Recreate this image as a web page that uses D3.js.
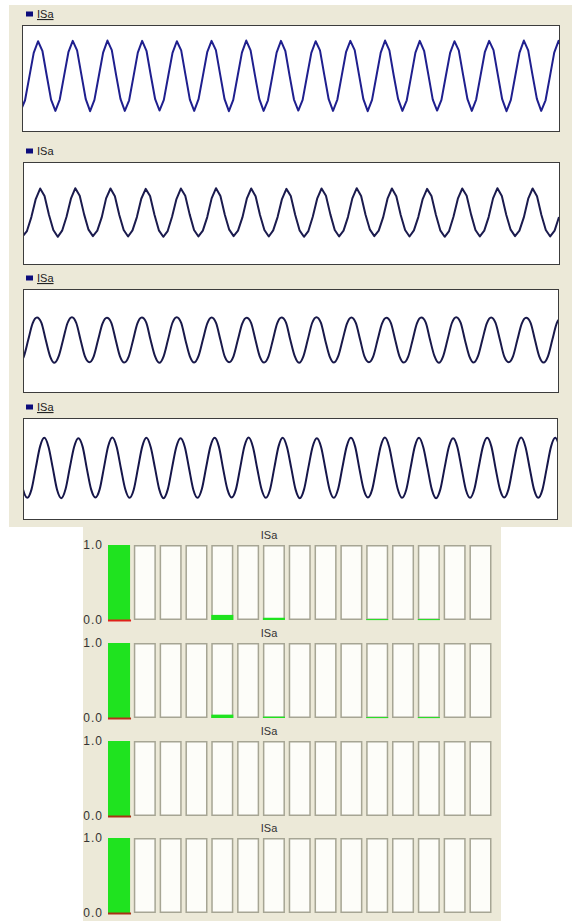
<!DOCTYPE html>
<html>
<head>
<meta charset="utf-8">
<script src="https://cdn.jsdelivr.net/npm/d3@7"></script>
<style>
body { margin: 0; background: #fff; }
svg { display: block; font-family: "Liberation Sans", Arial, sans-serif; }
</style>
</head>
<body>
<div id="graphic"></div>
<script>
// waveform traces, one value per sample (8 samples per cycle)
var seriesName = "ISa";

var waveA = [
  -0.92, -0.63, 0.04, 0.71, 1.04, 0.77, 0.07, -0.61,
  -0.93, -0.61, 0.06, 0.73, 1.05, 0.78, 0.09, -0.60,
  -0.94, -0.62, 0.05, 0.72, 1.06, 0.79, 0.08, -0.59,
  -0.93, -0.63, 0.04, 0.72, 1.05, 0.77, 0.07, -0.60,
  -0.92, -0.62, 0.05, 0.71, 1.04, 0.78, 0.08, -0.61,
  -0.93, -0.60, 0.06, 0.73, 1.05, 0.79, 0.09, -0.60,
  -0.94, -0.62, 0.05, 0.72, 1.06, 0.78, 0.08, -0.59,
  -0.93, -0.63, 0.04, 0.72, 1.05, 0.77, 0.06, -0.61,
  -0.92, -0.62, 0.05, 0.71, 1.04, 0.78, 0.08, -0.60,
  -0.93, -0.61, 0.06, 0.73, 1.05, 0.79, 0.09, -0.60,
  -0.94, -0.62, 0.05, 0.72, 1.06, 0.78, 0.07, -0.59,
  -0.93, -0.63, 0.04, 0.72, 1.05, 0.77, 0.08, -0.61,
  -0.92, -0.62, 0.05, 0.71, 1.04, 0.78, 0.08, -0.60,
  -0.93, -0.61, 0.06, 0.73, 1.05, 0.79, 0.09, -0.60,
  -0.94, -0.62, 0.05, 0.72, 1.06, 0.78, 0.08, -0.59,
  -0.93, -0.63, 0.04, 0.72, 1.05, 0.77
];

var waveB = [
  -0.69, -0.53, -0.12, 0.41, 0.72, 0.50, -0.05, -0.50,
  -0.70, -0.52, -0.11, 0.42, 0.73, 0.51, -0.04, -0.49,
  -0.68, -0.52, -0.13, 0.43, 0.72, 0.49, -0.06, -0.50,
  -0.69, -0.51, -0.12, 0.42, 0.71, 0.50, -0.05, -0.51,
  -0.70, -0.53, -0.11, 0.41, 0.72, 0.51, -0.04, -0.50,
  -0.69, -0.52, -0.12, 0.43, 0.73, 0.50, -0.05, -0.49,
  -0.68, -0.52, -0.13, 0.42, 0.72, 0.49, -0.06, -0.50,
  -0.69, -0.51, -0.12, 0.41, 0.71, 0.50, -0.05, -0.51,
  -0.70, -0.53, -0.11, 0.42, 0.72, 0.51, -0.04, -0.50,
  -0.69, -0.52, -0.12, 0.43, 0.73, 0.50, -0.05, -0.49,
  -0.68, -0.52, -0.13, 0.42, 0.72, 0.49, -0.06, -0.50,
  -0.69, -0.51, -0.12, 0.41, 0.71, 0.50, -0.05, -0.51,
  -0.70, -0.53, -0.11, 0.42, 0.72, 0.51, -0.04, -0.50,
  -0.69, -0.52, -0.12, 0.43, 0.73, 0.50, -0.05, -0.49,
  -0.68, -0.52, -0.13, 0.42, 0.72, 0.49, -0.06, -0.50,
  -0.69, -0.52, -0.12
];

var waveC = [
  -0.64, -0.46, 0.02, 0.50, 0.67, 0.52, 0.02, -0.46,
  -0.65, -0.45, 0.03, 0.51, 0.68, 0.51, 0.01, -0.47,
  -0.63, -0.46, 0.02, 0.49, 0.66, 0.52, 0.03, -0.46,
  -0.64, -0.47, 0.01, 0.50, 0.67, 0.53, 0.02, -0.45,
  -0.65, -0.46, 0.02, 0.51, 0.68, 0.52, 0.01, -0.46,
  -0.64, -0.45, 0.03, 0.50, 0.67, 0.51, 0.02, -0.47,
  -0.63, -0.46, 0.02, 0.49, 0.66, 0.52, 0.03, -0.46,
  -0.64, -0.47, 0.01, 0.50, 0.67, 0.53, 0.02, -0.45,
  -0.65, -0.46, 0.02, 0.51, 0.68, 0.52, 0.01, -0.46,
  -0.64, -0.45, 0.03, 0.50, 0.67, 0.51, 0.02, -0.47,
  -0.63, -0.46, 0.02, 0.49, 0.66, 0.52, 0.03, -0.46,
  -0.64, -0.47, 0.01, 0.50, 0.67, 0.53, 0.02, -0.45,
  -0.65, -0.46, 0.02, 0.51, 0.68, 0.52, 0.01, -0.46,
  -0.64, -0.45, 0.03, 0.50, 0.67, 0.51, 0.02, -0.47,
  -0.63, -0.46, 0.02, 0.49, 0.66, 0.52, 0.03, -0.46,
  -0.64, -0.46, 0.02, 0.50, 0.67
];

var waveD = [
  0.00, -0.62, -0.87, -0.62, 0.02, 0.65, 0.91, 0.64,
  0.01, -0.63, -0.88, -0.61, 0.03, 0.64, 0.90, 0.65,
  -0.01, -0.62, -0.86, -0.62, 0.02, 0.66, 0.92, 0.64,
  0.00, -0.61, -0.87, -0.63, 0.01, 0.65, 0.91, 0.63,
  0.01, -0.62, -0.88, -0.62, 0.02, 0.64, 0.90, 0.64,
  0.00, -0.63, -0.87, -0.61, 0.03, 0.65, 0.91, 0.65,
  -0.01, -0.62, -0.86, -0.62, 0.02, 0.66, 0.92, 0.64,
  0.00, -0.61, -0.87, -0.63, 0.01, 0.65, 0.91, 0.63,
  0.01, -0.62, -0.88, -0.62, 0.02, 0.64, 0.90, 0.64,
  0.00, -0.63, -0.87, -0.61, 0.03, 0.65, 0.91, 0.65,
  -0.01, -0.62, -0.86, -0.62, 0.02, 0.66, 0.92, 0.64,
  0.00, -0.61, -0.87, -0.63, 0.01, 0.65, 0.91, 0.63,
  0.01, -0.62, -0.88, -0.62, 0.02, 0.64, 0.90, 0.64,
  0.00, -0.63, -0.87, -0.61, 0.03, 0.65, 0.91, 0.65,
  -0.01, -0.62, -0.86, -0.62, 0.02, 0.66, 0.92, 0.64,
  0.00, -0.62, -0.87, -0.62, 0.02, 0.65, 0.91, 0.64
];

// harmonic bar rows (per unit of fundamental)
var harmonics = ["H1", "H2", "H3", "H4", "H5", "H6", "H7", "H8",
                 "H9", "H10", "H11", "H12", "H13", "H14", "H15"];
var barsA = [1.0, 0, 0, 0, 0.068, 0, 0.03, 0, 0, 0, 0.012, 0, 0.012, 0, 0];
var barsB = [1.0, 0, 0, 0, 0.045, 0, 0.018, 0, 0, 0, 0.012, 0, 0.012, 0, 0];
var barsC = [1.0, 0, 0, 0, 0, 0, 0, 0, 0, 0, 0, 0, 0, 0, 0];
var barsD = [1.0, 0, 0, 0, 0, 0, 0, 0, 0, 0, 0, 0, 0, 0, 0];
var barTicks = [0, 1];

var width = 572, height = 921;

var svg = d3.select("#graphic").append("svg")
    .attr("width", width)
    .attr("height", height);

// panel backgrounds
svg.append("rect")
    .attr("x", 9).attr("y", 5)
    .attr("width", 563).attr("height", 522)
    .attr("fill", "#ece9d8");
svg.append("rect")
    .attr("x", 83).attr("y", 527)
    .attr("width", 418).attr("height", 394)
    .attr("fill", "#ece9d8");

// ---- waveform panels ----
var wavePanels = [
  { data: waveA, top: 25, bottom: 131, left: 22, right: 559, window: [0.3, 124.1], color: "#1f1f8e", underline: true, curve: d3.curveLinear },
  { data: waveB, top: 162, bottom: 264, left: 23, right: 559, window: [0.1, 122], color: "#1b1b4e", underline: false, curve: d3.curveLinear },
  { data: waveC, top: 289, bottom: 392, left: 23, right: 558, window: [0.8, 123.3], color: "#19194a", underline: true, curve: d3.curveMonotoneX },
  { data: waveD, top: 418, bottom: 519, left: 23, right: 557, window: [1.0, 126.4], color: "#16164a", underline: true, curve: d3.curveMonotoneX }
];

wavePanels.forEach(function (p, k) {
    var g = svg.append("g");

    var x = d3.scaleLinear().domain(p.window).range([p.left, p.right]);
    var y = d3.scaleLinear().domain([-1.5, 1.5]).range([p.bottom, p.top]);

    g.append("rect")
        .attr("x", p.left + 0.5).attr("y", p.top + 0.5)
        .attr("width", p.right - p.left).attr("height", p.bottom - p.top)
        .attr("fill", "#ffffff")
        .attr("stroke", "#3c3c3c")
        .attr("stroke-width", 1);

    g.append("clipPath").attr("id", "clip" + k)
        .append("rect")
        .attr("x", p.left + 1).attr("y", p.top + 1)
        .attr("width", p.right - p.left - 1).attr("height", p.bottom - p.top - 1);

    var line = d3.line()
        .x(function (d, i) { return x(i); })
        .y(function (d) { return y(d); })
        .curve(p.curve);

    g.append("path")
        .datum(p.data)
        .attr("clip-path", "url(#clip" + k + ")")
        .attr("fill", "none")
        .attr("stroke", p.color)
        .attr("stroke-width", 2)
        .attr("stroke-linejoin", "round")
        .attr("d", line);

    // legend
    var ly = p.top - 11;
    g.append("rect")
        .attr("x", 26).attr("y", ly - 2.5)
        .attr("width", 7).attr("height", 5)
        .attr("fill", "#0c0c7c");
    g.append("text")
        .attr("x", 37).attr("y", ly + 4)
        .attr("font-size", 11)
        .attr("fill", "#222")
        .style("text-decoration", p.underline ? "underline" : "none")
        .text(seriesName);
});

// ---- harmonic bar rows ----
var barRows = [
  { data: barsA, top: 545, base: "#e0201a" },
  { data: barsB, top: 643, base: "#b8301a" },
  { data: barsC, top: 741, base: "#a83214" },
  { data: barsD, top: 838, base: "#a83214" }
];
var barHeight = 75;

var xb = d3.scaleBand()
    .domain(harmonics)
    .range([108, 491.5])
    .paddingInner(0.146)
    .paddingOuter(0);

barRows.forEach(function (r) {
    var g = svg.append("g");
    var yb = d3.scaleLinear().domain([0, 1]).range([r.top + barHeight, r.top]);

    g.append("text")
        .attr("x", 269).attr("y", r.top - 9)
        .attr("text-anchor", "middle")
        .attr("dominant-baseline", "middle")
        .attr("font-size", 11)
        .attr("fill", "#333")
        .text(seriesName);

    // empty slots
    g.selectAll(".slot")
        .data(harmonics)
        .enter().append("rect")
        .attr("class", "slot")
        .attr("x", function (d) { return xb(d) + 0.75; })
        .attr("y", yb(1) + 0.75)
        .attr("width", xb.bandwidth() - 1.5)
        .attr("height", yb(0) - yb(1) - 1.5)
        .attr("fill", "#fdfdf9")
        .attr("stroke", "#a6a594")
        .attr("stroke-width", 1.5);

    // values
    g.selectAll(".val")
        .data(r.data.map(function (v, i) { return { h: harmonics[i], v: v }; })
            .filter(function (d) { return d.v > 0; }))
        .enter().append("rect")
        .attr("class", "val")
        .attr("x", function (d) { return xb(d.h); })
        .attr("y", function (d) { return yb(d.v); })
        .attr("width", xb.bandwidth())
        .attr("height", function (d) { return Math.max(1, yb(0) - yb(d.v)); })
        .attr("fill", "#1fe31f");

    // zero marker under the fundamental
    g.append("line")
        .attr("x1", xb(harmonics[0])).attr("x2", xb(harmonics[0]) + xb.bandwidth() + 1)
        .attr("y1", yb(0) + 0.5).attr("y2", yb(0) + 0.5)
        .attr("stroke", r.base)
        .attr("stroke-width", 2);

    var axis = d3.axisLeft(yb)
        .tickValues(barTicks)
        .tickFormat(d3.format(".1f"))
        .tickSize(0)
        .tickPadding(3);

    var ag = g.append("g")
        .attr("transform", "translate(106,0)")
        .call(axis);
    ag.select(".domain").remove();
    ag.selectAll("text")
        .attr("font-family", "\"Liberation Sans\", Arial, sans-serif")
        .attr("font-size", 12)
        .attr("letter-spacing", 1)
        .attr("fill", "#333");
});
</script>
</body>
</html>
